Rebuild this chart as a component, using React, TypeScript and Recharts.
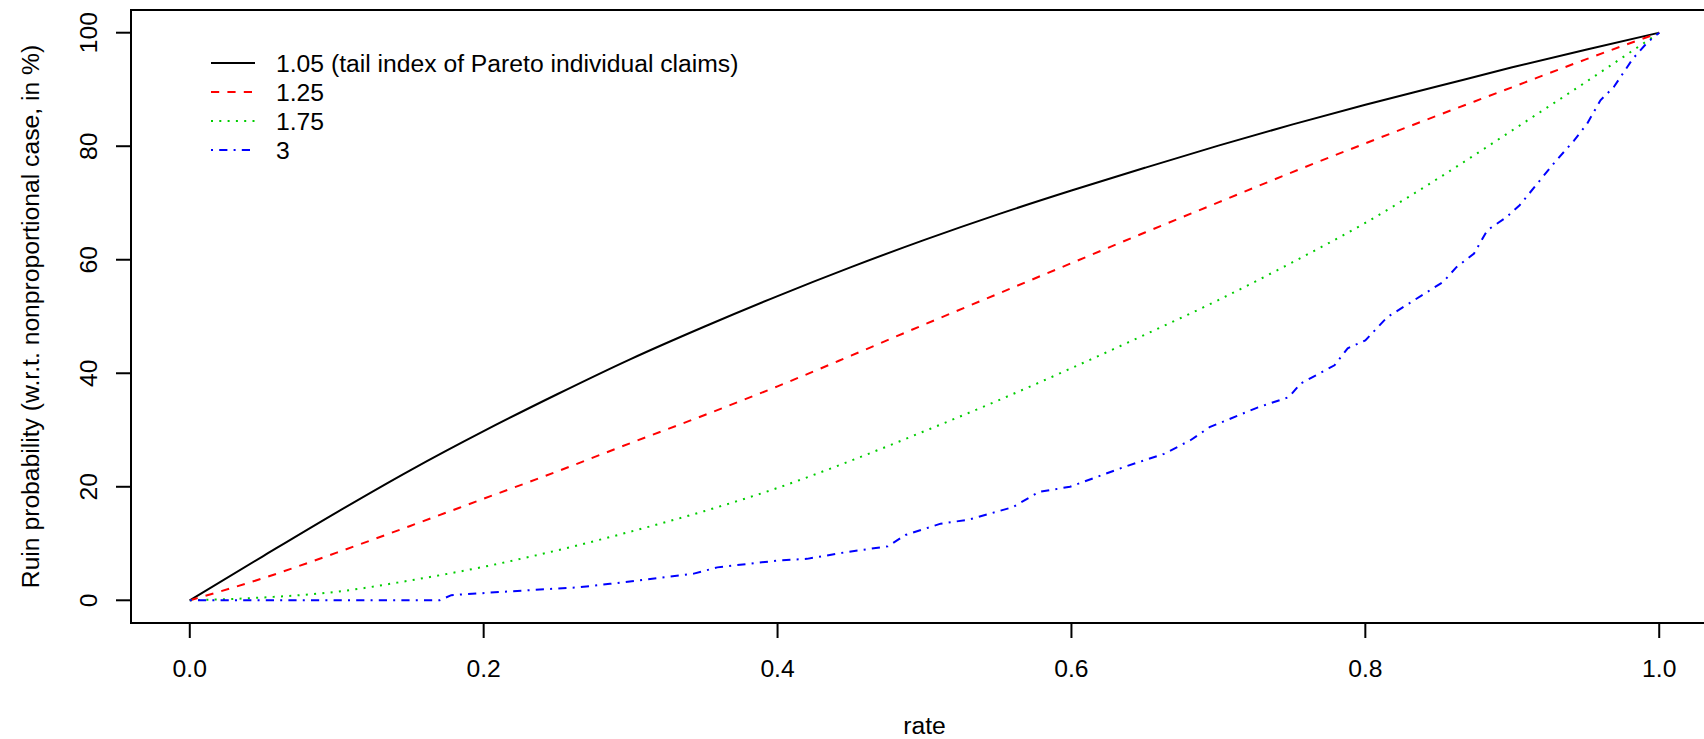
import { LineChart, Line, XAxis, YAxis, ReferenceArea, Legend, Label } from "recharts";

// tail index labels, colours and R line types
const seriesNames = ["1.05 (tail index of Pareto individual claims)", "1.25", "1.75", "3"];
const seriesColors = ["#000000", "#FF0000", "#00CD00", "#0000FF"];
const seriesDashes = ["", "8.2 8.2", "2 6.3", "2 6.2 8.2 6.2"];

// smooth curves, every 0.05
const rates = [0, 0.05, 0.1, 0.15, 0.2, 0.25, 0.3, 0.35, 0.4, 0.45, 0.5, 0.55, 0.6, 0.65, 0.7, 0.75, 0.8, 0.85, 0.9, 0.95, 1];
const tail105 = [0, 7.8, 15.5, 22.9, 29.8, 36.3, 42.5, 48.2, 53.6, 58.7, 63.5, 68.0, 72.2, 76.2, 80.1, 83.8, 87.3, 90.6, 93.9, 97.0, 100];
const tail125 = [0, 3.9, 8.4, 13.1, 17.9, 22.7, 27.7, 32.6, 37.7, 43.1, 48.6, 54.0, 59.4, 64.8, 70.1, 75.4, 80.5, 85.5, 90.4, 95.3, 100];
const tail175 = [0, 0.5, 1.5, 3.5, 5.9, 8.8, 12.1, 15.7, 19.8, 24.6, 29.8, 35.2, 40.9, 46.8, 52.9, 59.5, 66.5, 74.4, 82.8, 91.3, 100];

// the tail index 3 curve is bumpy, so it gets its own points
const rates3 = [0, 0.17, 0.178, 0.213, 0.265, 0.286, 0.343, 0.359, 0.4, 0.42, 0.447, 0.475, 0.487, 0.511, 0.53, 0.56, 0.578, 0.599, 0.636, 0.663, 0.681, 0.694, 0.727, 0.748, 0.756, 0.779, 0.788, 0.8, 0.815, 0.834, 0.853, 0.862, 0.874, 0.883, 0.896, 0.905, 0.917, 0.928, 0.942, 0.951, 0.96, 0.969, 0.982, 0.992, 1];
const tail3 = [0, 0, 0.9, 1.5, 2.3, 2.9, 4.7, 5.8, 7.0, 7.3, 8.5, 9.5, 11.5, 13.5, 14.2, 16.4, 19.1, 20.0, 23.5, 25.8, 28.2, 30.5, 34.0, 35.8, 38.2, 41.4, 44.4, 45.8, 49.9, 53.0, 56.1, 58.7, 61.1, 65.2, 67.5, 69.6, 73.4, 76.9, 81.0, 84.0, 88.1, 90.4, 95.4, 98.3, 100];

const xTicks = [0, 0.2, 0.4, 0.6, 0.8, 1];
const yTicks = [0, 20, 40, 60, 80, 100];

const FONT = "'Liberation Sans', Arial, Helvetica, sans-serif";
const FS = 24.7;

const data105 = rates.map((r, i) => ({ rate: r, v: tail105[i] }));
const data125 = rates.map((r, i) => ({ rate: r, v: tail125[i] }));
const data175 = rates.map((r, i) => ({ rate: r, v: tail175[i] }));
const data3 = rates3.map((r, i) => ({ rate: r, v: tail3[i] }));
const seriesData = [data105, data125, data175, data3];
const seriesCurve = ["monotone", "monotone", "monotone", "linear"];

const XTick = (props: any) => {
    const { x, y, payload } = props;
    return (
        <text x={x} y={y} dy={FS * 0.71} textAnchor="middle" fontSize={FS} fontFamily={FONT} fill="#000">
            {Number(payload.value).toFixed(1)}
        </text>
    );
};

const YTick = (props: any) => {
    const { x, y, payload } = props;
    return (
        <text x={x} y={y} transform={`rotate(-90 ${x} ${y})`} textAnchor="middle" fontSize={FS} fontFamily={FONT} fill="#000">
            {payload.value}
        </text>
    );
};

const LegendBox = () => (
    <svg width={560} height={130} style={{ overflow: "visible" }}>
        {seriesNames.map((name, i) => {
            const cy = 18 + 29 * i;
            return (
                <g key={name}>
                    <line x1={6} x2={50} y1={cy} y2={cy} stroke={seriesColors[i]} strokeWidth={2} strokeDasharray={seriesDashes[i] || undefined} />
                    <text x={71} y={cy + 8.9} fontSize={FS} fontFamily={FONT} fill="#000">
                        {name}
                    </text>
                </g>
            );
        })}
    </svg>
);

const App = () => {
    return (
        <div style={{ position: "absolute", left: 0, top: 0, width: 1704, height: 739, overflow: "hidden", background: "#fff" }}>
            <LineChart width={1720} height={739} margin={{ top: 10, right: 2, bottom: 0, left: 0 }}>
                <XAxis
                    type="number"
                    dataKey="rate"
                    domain={[-0.04, 1.04]}
                    allowDataOverflow
                    ticks={xTicks}
                    axisLine={false}
                    tickLine={{ stroke: "#000", strokeWidth: 2 }}
                    tickSize={15}
                    tickMargin={21.5}
                    tick={<XTick />}
                    height={116}
                >
                    <Label
                        content={(p: any) => {
                            const vb = p.viewBox;
                            return (
                                <text x={vb.x + vb.width / 2} y={vb.y + 111} textAnchor="middle" fontSize={FS} fontFamily={FONT} fill="#000">
                                    rate
                                </text>
                            );
                        }}
                    />
                </XAxis>
                <YAxis
                    type="number"
                    domain={[-4, 104]}
                    allowDataOverflow
                    ticks={yTicks}
                    axisLine={false}
                    tickLine={{ stroke: "#000", strokeWidth: 2 }}
                    tickSize={15}
                    tickMargin={19.3}
                    tick={<YTick />}
                    width={131}
                >
                    <Label
                        content={(p: any) => {
                            const vb = p.viewBox;
                            const cx = 39;
                            const cy = vb.y + vb.height / 2;
                            return (
                                <text x={cx} y={cy} transform={`rotate(-90 ${cx} ${cy})`} textAnchor="middle" fontSize={FS} fontFamily={FONT} fill="#000">
                                    Ruin probability (w.r.t. nonproportional case, in %)
                                </text>
                            );
                        }}
                    />
                </YAxis>
                <ReferenceArea x1={-0.04} x2={1.04} y1={-4} y2={104} fill="none" stroke="#000" strokeWidth={2} />
                {seriesNames.map((name, i) => (
                    <Line
                        key={name}
                        name={name}
                        data={seriesData[i]}
                        dataKey="v"
                        type={seriesCurve[i] as any}
                        stroke={seriesColors[i]}
                        strokeWidth={2}
                        strokeDasharray={seriesDashes[i] || undefined}
                        dot={false}
                        activeDot={false}
                        isAnimationActive={false}
                    />
                ))}
                <Legend
                    layout="vertical"
                    align="center"
                    verticalAlign="middle"
                    wrapperStyle={{ position: "absolute", left: 205, top: 45, width: 560, height: 130 }}
                    content={() => <LegendBox />}
                />
            </LineChart>
        </div>
    );
};

export default App;
